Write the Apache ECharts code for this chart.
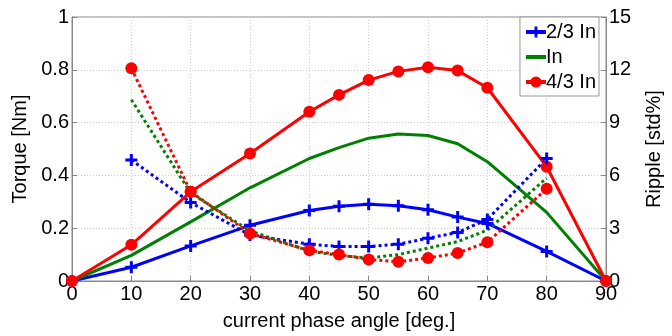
<!DOCTYPE html>
<html>
<head>
<meta charset="utf-8">
<script src="https://cdn.jsdelivr.net/npm/echarts@6/dist/echarts.min.js"></script>
<style>
  html, body { margin: 0; padding: 0; background: #fff; }
  #chart { width: 672px; height: 336px; }
</style>
</head>
<body>
<div id="chart"></div>
<script>
// phase angles (deg)
const anglesTorque = [0, 10, 20, 30, 40, 45, 50, 55, 60, 65, 70, 80, 90];
const anglesRipple = [10, 20, 30, 40, 45, 50, 55, 60, 65, 70, 80];

// torque [Nm], left axis
const torque23 = [0, 0.052, 0.133, 0.211, 0.267, 0.283, 0.291, 0.285, 0.27, 0.242, 0.218, 0.112, 0];
const torqueIn = [0, 0.097, 0.224, 0.353, 0.464, 0.505, 0.541, 0.557, 0.551, 0.52, 0.452, 0.26, 0];
const torque43 = [0, 0.137, 0.338, 0.483, 0.641, 0.705, 0.761, 0.794, 0.81, 0.797, 0.732, 0.433, 0];

// ripple [std%], right axis
const ripple23 = [6.87, 4.46, 2.61, 2.09, 1.96, 1.96, 2.09, 2.43, 2.76, 3.5, 6.96];
const rippleIn = [10.3, 5.0, 2.85, 1.7, 1.45, 1.31, 1.5, 1.87, 2.24, 2.89, 5.85];
const ripple43 = [12.09, 5.07, 2.7, 1.74, 1.5, 1.22, 1.09, 1.31, 1.59, 2.2, 5.24];

const legendNames = ["2/3 In", "In", "4/3 In"];

const pair = (xs, ys) => xs.map((x, i) => [x, ys[i]]);
const plus = "path://M3,0H5V3H8V5H5V8H3V5H0V3H3Z";
const FONT = "Liberation Sans";

const chart = echarts.init(document.getElementById("chart"));
const gridLine = { show: true, lineStyle: { color: "#cfcfcf", type: [1, 2], width: 1 } };
const axisText = { color: "#000", fontSize: 20, fontFamily: FONT };

chart.setOption({
  animation: false,
  textStyle: { fontFamily: FONT },
  grid: { left: 72, right: 64, top: 17, bottom: 49, show: true, borderColor: "#888", borderWidth: 1 },
  legend: {
    data: [
      { name: legendNames[0] },
      { name: legendNames[1], itemStyle: { opacity: 0 } },
      { name: legendNames[2] }
    ],
    orient: "vertical",
    right: 73,
    top: 17,
    backgroundColor: "#fff",
    borderColor: "#999",
    borderWidth: 1,
    padding: [5, 3, 4, 4],
    itemGap: 5,
    itemWidth: 20,
    itemHeight: 14,
    lineStyle: { width: 4 },
    textStyle: { color: "#000", fontSize: 20, fontFamily: FONT, padding: [0, 0, 0, -5] }
  },
  xAxis: {
    type: "value",
    min: 0, max: 90, interval: 10,
    name: "current phase angle [deg.]",
    nameLocation: "middle",
    nameGap: 30,
    nameTextStyle: axisText,
    axisLine: { lineStyle: { color: "#888" } },
    axisTick: { inside: true, length: 5, lineStyle: { color: "#888" } },
    axisLabel: Object.assign({ margin: 3 }, axisText),
    splitLine: gridLine
  },
  yAxis: [
    {
      type: "value",
      min: 0, max: 1, interval: 0.2,
      name: "Torque [Nm]",
      nameLocation: "middle",
      nameGap: 42,
      nameTextStyle: axisText,
      axisLine: { show: true, lineStyle: { color: "#888" } },
      axisTick: { show: true, inside: true, length: 5, lineStyle: { color: "#888" } },
      axisLabel: Object.assign({ margin: 3 }, axisText),
      splitLine: gridLine
    },
    {
      type: "value",
      min: 0, max: 15, interval: 3,
      name: "Ripple [std%]",
      nameLocation: "middle",
      nameGap: 38,
      nameTextStyle: axisText,
      axisLine: { show: true, lineStyle: { color: "#888" } },
      axisTick: { show: true, inside: true, length: 5, lineStyle: { color: "#888" } },
      axisLabel: Object.assign({ margin: 3 }, axisText),
      splitLine: { show: false }
    }
  ],
  series: [
    {
      name: "2/3 In", type: "line", yAxisIndex: 0,
      data: pair(anglesTorque, torque23),
      color: "#0000ff",
      symbol: plus, symbolSize: 12, showAllSymbol: true,
      lineStyle: { width: 3 }, itemStyle: { color: "#0000ff" }
    },
    {
      name: "In", type: "line", yAxisIndex: 0,
      data: pair(anglesTorque, torqueIn),
      color: "#008000",
      showSymbol: false, symbol: "none",
      lineStyle: { width: 3 }
    },
    {
      name: "4/3 In", type: "line", yAxisIndex: 0,
      data: pair(anglesTorque, torque43),
      color: "#ff0000",
      symbol: "circle", symbolSize: 12, showAllSymbol: true,
      lineStyle: { width: 3 }, itemStyle: { color: "#ff0000" }
    },
    {
      name: "ripple 2/3 In", type: "line", yAxisIndex: 1,
      data: pair(anglesRipple, ripple23),
      symbol: plus, symbolSize: 12, showAllSymbol: true,
      lineStyle: { width: 3, type: [3, 3], color: "#0000ff" }, itemStyle: { color: "#0000ff" }
    },
    {
      name: "ripple In", type: "line", yAxisIndex: 1,
      data: pair(anglesRipple, rippleIn),
      symbol: "none",
      lineStyle: { width: 3, type: [3, 3], color: "#008000" }
    },
    {
      name: "ripple 4/3 In", type: "line", yAxisIndex: 1,
      data: pair(anglesRipple, ripple43),
      symbol: "circle", symbolSize: 12, showAllSymbol: true,
      lineStyle: { width: 3, type: [3, 3], color: "#ff0000" }, itemStyle: { color: "#ff0000" }
    }
  ]
});
</script>
</body>
</html>
